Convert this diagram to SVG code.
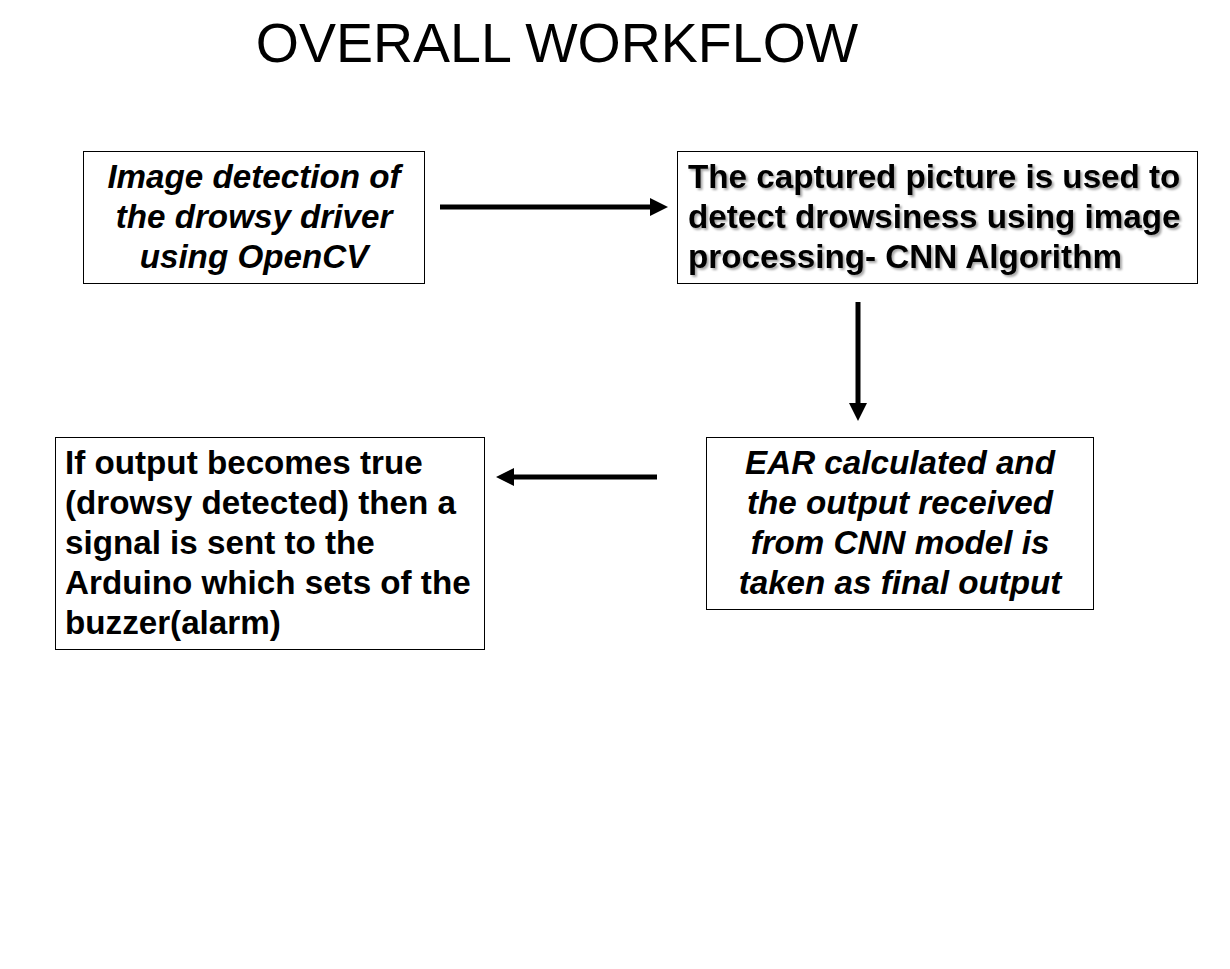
<svg xmlns="http://www.w3.org/2000/svg" width="1230" height="969" viewBox="0 0 1230 969">
<defs>
<style>
.box{fill:#fff;stroke:#000;stroke-width:1}
.t{font-family:"Liberation Sans",Arial,sans-serif;font-size:33.2px;font-weight:bold;fill:#000}
.i{font-style:italic}
.c{text-anchor:middle}
.title{font-family:"Liberation Sans",Arial,sans-serif;font-size:55.5px;fill:#000;text-anchor:middle}
.conn{stroke:#000;stroke-width:5;fill:none}
</style>
<marker id="ah" viewBox="0 0 18 18" refX="2" refY="9" markerWidth="18" markerHeight="18" markerUnits="userSpaceOnUse" orient="auto">
<path d="M0,0 L18,9 L0,18 z" fill="#000"/>
</marker>
<filter id="sh" x="-5%" y="-10%" width="110%" height="130%">
<feDropShadow dx="2" dy="2" stdDeviation="1.2" flood-color="#000" flood-opacity="0.35"/>
</filter>
</defs>
<rect width="1230" height="969" fill="#fff"/>
<text class="title" x="557" y="62">OVERALL WORKFLOW</text>
<g id="node1">
<rect class="box" x="83.5" y="151.5" width="341" height="132"/>
<text class="t i c" x="254" y="188">Image detection of</text>
<text class="t i c" x="254" y="228">the drowsy driver</text>
<text class="t i c" x="254" y="268">using OpenCV</text>
</g>
<g id="node2">
<rect class="box" x="677.5" y="151.5" width="520" height="132"/>
<g filter="url(#sh)">
<text class="t" x="688" y="188">The captured picture is used to</text>
<text class="t" x="688" y="228">detect drowsiness using image</text>
<text class="t" x="688" y="268">processing- CNN Algorithm</text>
</g>
</g>
<g id="node3">
<rect class="box" x="706.5" y="437.5" width="387" height="172"/>
<text class="t i c" x="900" y="474">EAR calculated and</text>
<text class="t i c" x="900" y="514">the output received</text>
<text class="t i c" x="900" y="554">from CNN model is</text>
<text class="t i c" x="900" y="594">taken as final output</text>
</g>
<g id="node4">
<rect class="box" x="55.5" y="437.5" width="429" height="212"/>
<text class="t" x="65" y="474">If output becomes true</text>
<text class="t" x="65" y="514">(drowsy detected) then a</text>
<text class="t" x="65" y="554">signal is sent to the</text>
<text class="t" x="65" y="594">Arduino which sets of the</text>
<text class="t" x="65" y="634">buzzer(alarm)</text>
</g>
<g id="connectors">
<line class="conn" x1="440" y1="207" x2="652" y2="207" marker-end="url(#ah)"/>
<line class="conn" x1="858" y1="302" x2="858" y2="405" marker-end="url(#ah)"/>
<line class="conn" x1="657" y1="477" x2="512" y2="477" marker-end="url(#ah)"/>
</g>
</svg>
